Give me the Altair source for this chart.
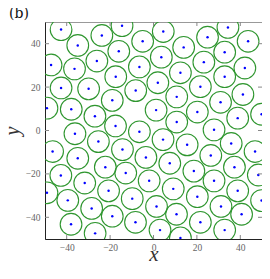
import altair as alt
import pandas as pd

xs = [-42.6, -14.5, 4.5, 34.3, -23.8, 24.9, 43.6, -34.9, -5.0, 13.9,
      -16.0, 32.8, -47.2, -26.1, 3.6, 23.2, -36.4, -6.5, 42.1, 12.4,
      -17.4, 32.8, -42.6, -29.9, 2.0, 21.6, -8.2, 41.2, 10.7, -19.0,
      30.9, -49.1, -37.9, 1.2, 20.2, -27.0, 49.8, 38.8, 10.7, -17.5,
      27.9, -6.5, -36.2, 4.4, -25.4, 35.8, 15.5, -46.5, -14.3, 46.8,
      26.4, -3.5, -34.9, 7.5, -22.2, 37.3, 18.6, -12.8, -42.7, 48.3,
      -2.0, -31.7, 27.9, 9.1, -20.7, 38.8, -49.1, 20.2, -9.8, -39.5,
      49.8, 1.4, 31.1, -28.5, 10.6, -19.0, 40.6, -38.0, -8.3, 21.6,
      3.0, 32.8, -26.9, 12.4]
ys = [46.5, 48.3, 45.6, 47.5, 43.8, 43.0, 41.1, 39.2, 41.1, 38.3,
      36.5, 36.1, 30.2, 32.0, 33.8, 31.5, 28.4, 29.3, 28.8, 26.6,
      24.8, 24.8, 19.6, 19.2, 22.0, 20.2, 18.4, 16.6, 15.5, 13.9,
      13.0, 10.3, 9.8, 9.4, 8.5, 6.6, 7.5, 5.7, 3.9, 2.1,
      0.3, -0.6, -1.5, -4.2, -5.1, -6.0, -6.6, -9.7, -8.8, -9.7,
      -11.5, -12.4, -12.8, -15.1, -16.9, -16.9, -18.7, -19.6, -20.7, -20.5,
      -23.2, -24.2, -23.2, -26.9, -27.8, -27.8, -28.7, -30.5, -31.4, -32.2,
      -32.3, -35.0, -35.0, -35.9, -38.6, -39.5, -38.6, -43.2, -42.3, -42.3,
      -45.9, -45.9, -47.4, -49.5]
tick_values = [-40, -20, 0, 20, 40]

df = pd.DataFrame({"x": xs, "y": ys})
ticks = pd.DataFrame({"t": tick_values})

W = 217
H = 217
serif = "Liberation Serif"

xscale = alt.Scale(domain=[-50, 50], nice=False, zero=False)
yscale = alt.Scale(domain=[-50, 50], nice=False, zero=False)

xaxis = alt.Axis(values=tick_values, title="x", grid=False, tickSize=0,
                 domainColor="#222222", labelFont=serif, labelFontSize=9.5,
                 labelColor="#666666", labelPadding=3, titleFont=serif,
                 titleFontStyle="italic", titleFontWeight="normal",
                 titleFontSize=21, titleColor="#333333",
                 titleBaseline="alphabetic", titlePadding=9)
yaxis = alt.Axis(values=tick_values, title="y", grid=False, tickSize=0,
                 domainColor="#222222", labelFont=serif, labelFontSize=9.5,
                 labelColor="#666666", labelPadding=5, titleFont=serif,
                 titleFontStyle="italic", titleFontWeight="normal",
                 titleFontSize=20, titleColor="#333333", titlePadding=3)

base = alt.Chart(df)
circles = base.mark_point(shape="circle", filled=False, size=471,
                          color="#2f962f", strokeWidth=1.1, opacity=1,
                          clip=True).encode(
    x=alt.X("x:Q", scale=xscale, axis=xaxis),
    y=alt.Y("y:Q", scale=yscale, axis=yaxis),
)
dots = base.mark_point(shape="circle", filled=True, size=6,
                       color="#0000ff", opacity=1, clip=True).encode(
    x=alt.X("x:Q", scale=xscale),
    y=alt.Y("y:Q", scale=yscale),
)

tk = alt.Chart(ticks)
tick_color = "#888888"
xt_bottom = tk.mark_rule(color=tick_color, strokeWidth=1).encode(
    x=alt.X("t:Q", scale=xscale), y=alt.value(H), y2=alt.value(H - 4))
xt_top = tk.mark_rule(color=tick_color, strokeWidth=1).encode(
    x=alt.X("t:Q", scale=xscale), y=alt.value(0), y2=alt.value(4))
yt_left = tk.mark_rule(color=tick_color, strokeWidth=1).encode(
    y=alt.Y("t:Q", scale=yscale), x=alt.value(0), x2=alt.value(4))
yt_right = tk.mark_rule(color=tick_color, strokeWidth=1).encode(
    y=alt.Y("t:Q", scale=yscale), x=alt.value(W), x2=alt.value(W - 4))

chart = alt.layer(circles, dots, xt_bottom, xt_top, yt_left, yt_right).properties(
    width=W, height=H,
    title=alt.TitleParams("(b)", anchor="start", frame="group", dx=-36,
                          font="DejaVu Serif", fontSize=14, fontWeight="normal",
                          color="#111111", offset=1),
    autosize=alt.AutoSizeParams(type="none"),
    padding={"left": 37, "top": 14, "right": 0, "bottom": 30},
).configure_view(stroke="#999999", strokeWidth=1)

chart.save("out.html", embed_options={"renderer": "svg", "actions": False})
